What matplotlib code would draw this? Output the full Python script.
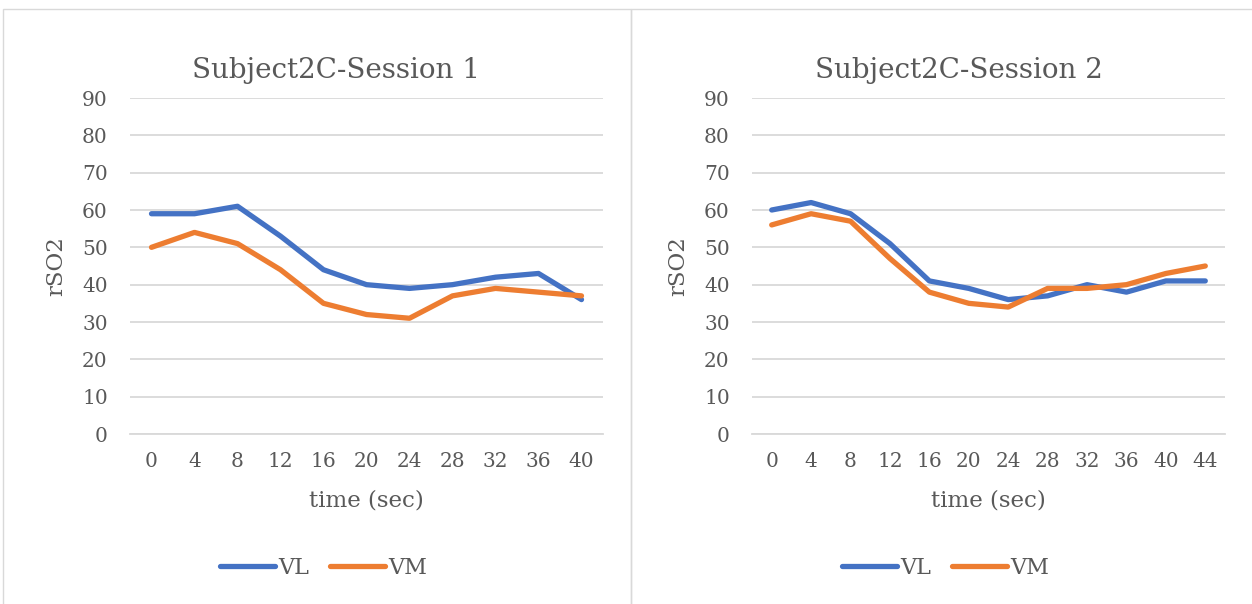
import matplotlib
matplotlib.use("Agg")
import matplotlib.pyplot as plt
from matplotlib.patches import Rectangle

plt.rcParams['font.family'] = ['DejaVu Serif']

# Data
times_s1 = [0, 4, 8, 12, 16, 20, 24, 28, 32, 36, 40]
vl_s1 = [59, 59, 61, 53, 44, 40, 39, 40, 42, 43, 36]
vm_s1 = [50, 54, 51, 44, 35, 32, 31, 37, 39, 38, 37]

times_s2 = [0, 4, 8, 12, 16, 20, 24, 28, 32, 36, 40, 44]
vl_s2 = [60, 62, 59, 51, 41, 39, 36, 37, 40, 38, 41, 41]
vm_s2 = [56, 59, 57, 47, 38, 35, 34, 39, 39, 40, 43, 45]

titles = ["Subject2C-Session 1", "Subject2C-Session 2"]
y_ticks = list(range(0, 100, 10))

W, H = 1252, 604
fig = plt.figure(figsize=(W / 100, H / 100), dpi=100)

BLUE = "#4472C4"
ORANGE = "#ED7D31"
GRID = "#D9D9D9"
TXT = "#595959"

# chart frames
for x0, x1 in [(3, 631), (631, 1260)]:
    fig.add_artist(Rectangle((x0 / W, 0 - 0.02), (x1 - x0) / W, (H - 9) / H + 0.02,
                             transform=fig.transFigure, fill=False,
                             edgecolor="#D9D9D9", linewidth=1.0))

panels = [
    (130, 603, times_s1, vl_s1, vm_s1, titles[0]),
    (752, 1225, times_s2, vl_s2, vm_s2, titles[1]),
]

for (px0, px1, t, vl, vm, title) in panels:
    ax = fig.add_axes([px0 / W, (H - 434) / H, (px1 - px0) / W, 336 / H])
    idx = list(range(len(t)))
    ax.plot(idx, vl, color=BLUE, linewidth=3.8, solid_capstyle='round',
            solid_joinstyle='round', label="VL", zorder=3)
    ax.plot(idx, vm, color=ORANGE, linewidth=3.8, solid_capstyle='round',
            solid_joinstyle='round', label="VM", zorder=3)
    ax.set_xlim(-0.5, len(t) - 0.5)
    ax.set_ylim(0, 90)
    ax.set_yticks(y_ticks)
    ax.set_xticks(idx)
    ax.set_xticklabels([str(v) for v in t])
    ax.tick_params(axis='both', length=0, labelsize=14.5, colors=TXT)
    ax.tick_params(axis='y', pad=16)
    ax.tick_params(axis='x', pad=13)
    ax.grid(axis='y', color=GRID, linewidth=1.3)
    ax.set_axisbelow(True)
    for s in ["top", "right", "left"]:
        ax.spines[s].set_visible(False)
    ax.spines["bottom"].set_color(GRID)
    ax.spines["bottom"].set_linewidth(1.3)

    cx = (px0 + px1) / 2
    fig.text((cx - 30) / W, (H - 70) / H, title, fontsize=20, color=TXT,
             ha="center", va="center")
    ax.set_ylabel("rSO2", fontsize=16.5, color=TXT)
    ax.yaxis.set_label_coords(-74 / (px1 - px0), 0.5)
    ax.set_xlabel("time (sec)", fontsize=16.5, color=TXT)
    ax.xaxis.set_label_coords(0.5, -(500 - 434) / 336)
    ax.xaxis.label.set_va("center")
    ax.yaxis.label.set_va("center")

    ax.legend(loc="center", bbox_to_anchor=((cx - 43) / W, (H - 568) / H),
              bbox_transform=fig.transFigure, ncol=2, frameon=False,
              fontsize=16, handlelength=2.5, handletextpad=0.15,
              columnspacing=0.9, labelcolor=TXT)

fig.savefig("out.png", dpi=100, facecolor="white")
